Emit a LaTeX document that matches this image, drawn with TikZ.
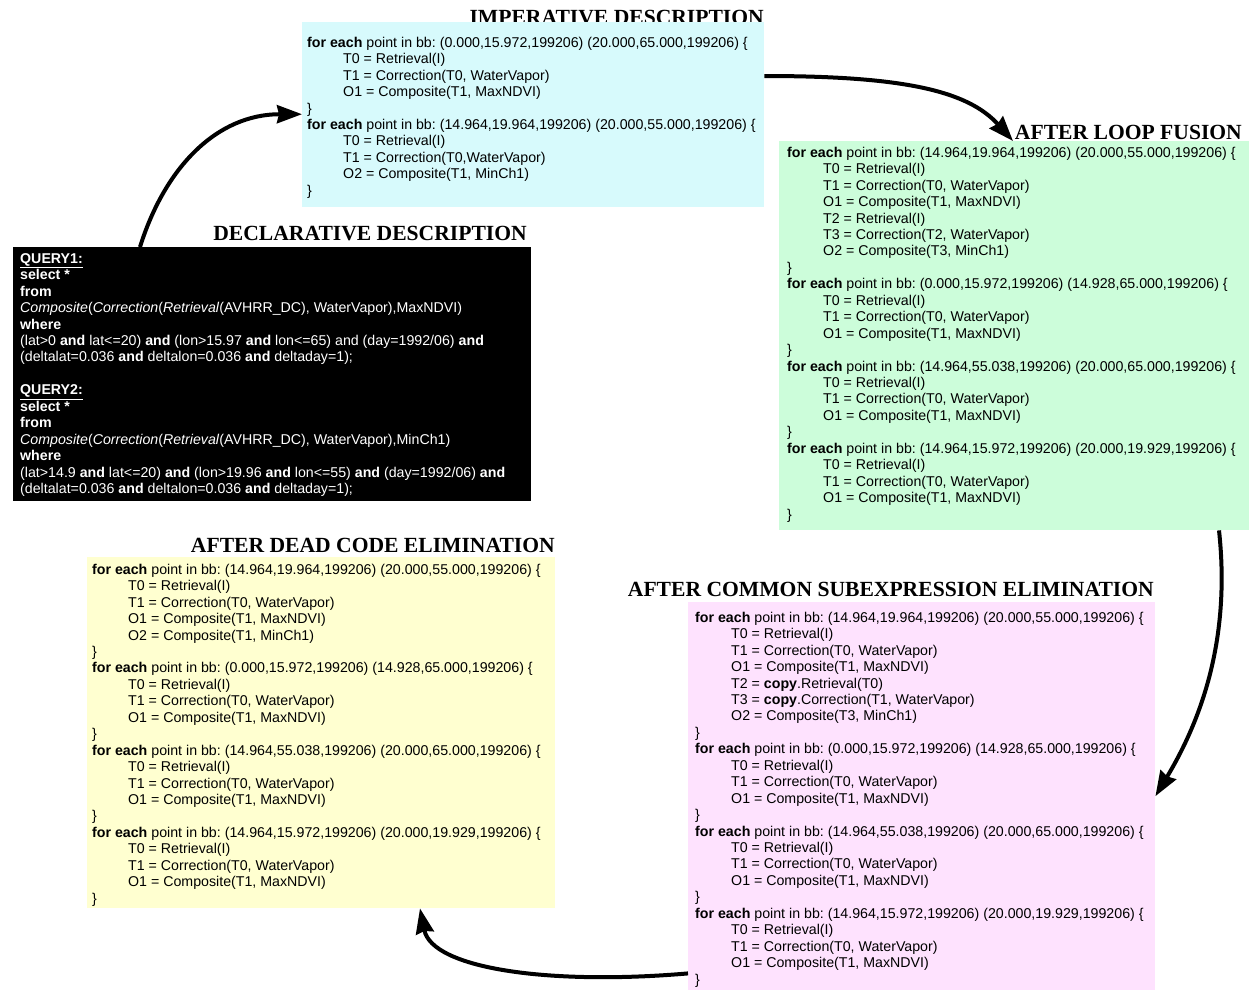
\documentclass[tikz,border=0pt]{standalone}
\usepackage{fontspec}
\setmainfont{Liberation Sans}
\newfontfamily\ttlfont{Liberation Serif}
\usetikzlibrary{arrows.meta}
\definecolor{cyanbg}{RGB}{215,250,252}
\definecolor{greenbg}{RGB}{204,253,218}
\definecolor{yellowbg}{RGB}{255,255,208}
\definecolor{pinkbg}{RGB}{254,226,254}
\newcommand{\myind}{\hspace*{36pt}}
\newcommand{\fe}{\textbf{for each} point in bb: }
\newcommand{\plainloop}{T0 = Retrieval(I)\\ \myind T1 = Correction(T0, WaterVapor)\\ \myind O1 = Composite(T1, MaxNDVI)\\ \}}
\frenchspacing
\begin{document}
\begin{tikzpicture}[x=1pt,y=-1pt,
  box/.style={rectangle, draw=none, inner sep=0pt, anchor=north west},
  code/.style={anchor=north west, inner sep=0pt, align=left, font=\frenchspacing\fontsize{14.2}{16.45}\selectfont},
  ttl/.style={anchor=base east, inner sep=0pt, font=\ttlfont\bfseries\fontsize{21.6}{24}\selectfont},
  arr/.style={line width=4pt, -{Stealth[length=25pt,width=18pt,inset=2pt]}}]
\useasboundingbox (0,0) rectangle (1249,991);

% titles
\node[ttl] (timp) at (764,24) {IMPERATIVE DESCRIPTION};
\node[ttl] (tlf) at (1242,139) {AFTER LOOP FUSION};
\node[ttl] (tdecl) at (527,240) {DECLARATIVE DESCRIPTION};
\node[ttl] (tdce) at (555,552) {AFTER DEAD CODE ELIMINATION};
\node[ttl] (tcse) at (1154,596) {AFTER COMMON SUBEXPRESSION ELIMINATION};

% boxes
\node[box, fill=cyanbg, minimum width=462pt, minimum height=185pt] (imp) at (302,22) {};
\node[box, fill=greenbg, minimum width=470pt, minimum height=389pt] (lf) at (779,141) {};
\node[box, fill=black, minimum width=518pt, minimum height=254pt] (decl) at (13,247) {};
\node[box, fill=yellowbg, minimum width=468pt, minimum height=351pt] (dce) at (87,557) {};
\node[box, fill=pinkbg, minimum width=467pt, minimum height=388pt] (cse) at (688,602) {};

% code texts
\node[code] (impcode) at (307,35.5) {\strut\fe(0.000,15.972,199206) (20.000,65.000,199206) \{\\
\myind T0 = Retrieval(I)\\
\myind T1 = Correction(T0, WaterVapor)\\
\myind O1 = Composite(T1, MaxNDVI)\\
\}\\
\fe(14.964,19.964,199206) (20.000,55.000,199206) \{\\
\myind T0 = Retrieval(I)\\
\myind T1 = Correction(T0,WaterVapor)\\
\myind O2 = Composite(T1, MinCh1)\\
\}};

\node[code] (lfcode) at (787,145.5) {\strut\fe(14.964,19.964,199206) (20.000,55.000,199206) \{\\
\myind T0 = Retrieval(I)\\
\myind T1 = Correction(T0, WaterVapor)\\
\myind O1 = Composite(T1, MaxNDVI)\\
\myind T2 = Retrieval(I)\\
\myind T3 = Correction(T2, WaterVapor)\\
\myind O2 = Composite(T3, MinCh1)\\
\}\\
\fe(0.000,15.972,199206) (14.928,65.000,199206) \{\\
\myind \plainloop\\
\fe(14.964,55.038,199206) (20.000,65.000,199206) \{\\
\myind \plainloop\\
\fe(14.964,15.972,199206) (20.000,19.929,199206) \{\\
\myind \plainloop};

\node[code, text=white] (declcode) at (20,251.5) {\strut\underline{\textbf{QUERY1:}}\\
\textbf{select *}\\
\textbf{from}\\
\textit{Composite}(\textit{Correction}(\textit{Retrieval}(AVHRR\_DC), WaterVapor),MaxNDVI)\\
\textbf{where}\\
(lat>0 \textbf{and} lat<=20) \textbf{and} (lon>15.97 \textbf{and} lon<=65) and (day=1992/06) \textbf{and}\\
(deltalat=0.036 \textbf{and} deltalon=0.036 \textbf{and} deltaday=1);\\
\strut\\
\underline{\textbf{QUERY2:}}\\
\textbf{select *}\\
\textbf{from}\\
\textit{Composite}(\textit{Correction}(\textit{Retrieval}(AVHRR\_DC), WaterVapor),MinCh1)\\
\textbf{where}\\
(lat>14.9 \textbf{and} lat<=20) \textbf{and} (lon>19.96 \textbf{and} lon<=55) \textbf{and} (day=1992/06) \textbf{and}\\
(deltalat=0.036 \textbf{and} deltalon=0.036 \textbf{and} deltaday=1);};

\node[code] (dcecode) at (92,562.5) {\strut\fe(14.964,19.964,199206) (20.000,55.000,199206) \{\\
\myind T0 = Retrieval(I)\\
\myind T1 = Correction(T0, WaterVapor)\\
\myind O1 = Composite(T1, MaxNDVI)\\
\myind O2 = Composite(T1, MinCh1)\\
\}\\
\fe(0.000,15.972,199206) (14.928,65.000,199206) \{\\
\myind \plainloop\\
\fe(14.964,55.038,199206) (20.000,65.000,199206) \{\\
\myind \plainloop\\
\fe(14.964,15.972,199206) (20.000,19.929,199206) \{\\
\myind \plainloop};

\node[code] (csecode) at (695,610.5) {\strut\fe(14.964,19.964,199206) (20.000,55.000,199206) \{\\
\myind T0 = Retrieval(I)\\
\myind T1 = Correction(T0, WaterVapor)\\
\myind O1 = Composite(T1, MaxNDVI)\\
\myind T2 = \textbf{copy}.Retrieval(T0)\\
\myind T3 = \textbf{copy}.Correction(T1, WaterVapor)\\
\myind O2 = Composite(T3, MinCh1)\\
\}\\
\fe(0.000,15.972,199206) (14.928,65.000,199206) \{\\
\myind \plainloop\\
\fe(14.964,55.038,199206) (20.000,65.000,199206) \{\\
\myind \plainloop\\
\fe(14.964,15.972,199206) (20.000,19.929,199206) \{\\
\myind \plainloop};

% connectors
\draw[arr] ([xshift=127pt]decl.north west) .. controls +(25,-80) and +(-85,0) .. ([yshift=0.5pt]imp.west);
\draw[arr] ([yshift=-54pt]imp.north east) .. controls +(140,0) and +(-45,-50) .. ([xshift=234pt]lf.north west);
\draw[arr] ([xshift=440pt]lf.south west) .. controls +(12,110) and +(45,-75) .. (cse.east);
\draw[arr] ([yshift=17pt]cse.south west) .. controls +(-140,12) and +(12,60) .. ([xshift=333pt]dce.south west);
\end{tikzpicture}
\end{document}
